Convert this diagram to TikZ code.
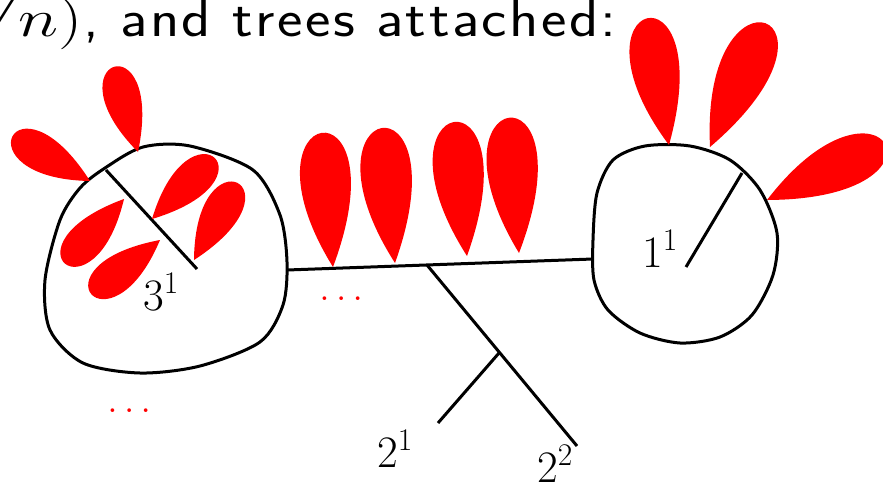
\RequirePackage{fix-cm}
\documentclass[tikz,border=0pt]{standalone}
\usepackage{graphicx}
\font\titlefont="[lmsans17-regular]:mapping=tex-text;letterspace=4" at 52.7pt
\newcommand\petal[5]{%
  \pgfmathsetmacro\petalscale{#4/135}%
  \fill[petalfill, shift={(#1,#2)}, rotate=#3, scale=\petalscale, yscale=#5]
    (0,0) .. controls (195,70) and (165,-105) .. (0,0) -- cycle;}
\tikzset{
  petalfill/.style={red},
  blob/.style={draw=black, line width=3pt},
  edge/.style={draw=black, line width=3pt},
  lbl/.style={inner sep=0pt, anchor=base, font=\fontsize{45}{50}\selectfont},
  reddots/.style={inner sep=0pt, anchor=base, text=red, font=\fontsize{38}{42}\selectfont},
}
\begin{document}
\begin{tikzpicture}[x=1pt,y=-1pt]
\useasboundingbox (0,0) rectangle (883,482);
\fill[white] (0,0) rectangle (883,482);
% title line (clipped at top/left)
\node[inner sep=0pt, anchor=base west] (title) at (83,36.7)
  {\scalebox{1.15}[1]{\titlefont, and trees attached:}};
\node[inner sep=0pt, anchor=base east] (titlemath) at (title.base west)
  {\fontsize{52.7}{60}\selectfont\scalebox{1.3}[1]{$\sqrt{\vphantom{d}n})$}};
% blobs
\draw[blob] plot[smooth cycle] coordinates {(105,168) (143,147) (190,146) (253,170) (280,215) (287,262) (283,305) (260,342) (200,366) (140,373) (83,363) (50,330) (45,280) (60,220) (80,188)};
\draw[blob] plot[smooth cycle] coordinates {(597,193) (613,160) (645,146) (690,146) (730,160) (760,190) (777,233) (773,275) (752,315) (720,337) (680,343) (640,333) (608,310) (594,280) (593,240)};
% tree
\coordinate (L) at (287,270);
\coordinate (R) at (593,259);
\coordinate (b) at (427,265);
\coordinate (c) at (499,353);
\coordinate (d) at (577,446);
\coordinate (e) at (438,423);
\coordinate (l1) at (106,170);
\coordinate (l2) at (197,269);
\coordinate (r1) at (742,173);
\coordinate (r2) at (686,267);
\draw[edge] (L) -- (R);
\draw[edge] (b) -- (d);
\draw[edge] (c) -- (e);
\draw[edge] (l1) -- (l2);
\draw[edge] (r1) -- (r2);
% petals
\petal{333}{267}{89.3}{134}{1}
\petal{395}{263}{90.1}{135}{1}
\petal{467}{256}{90.1}{134}{1}
\petal{519}{253}{88.8}{135}{1}
\petal{138}{152}{99.8}{88}{1.1}
\petal{90}{181}{144}{89}{1.1}
\petal{152}{219}{38.3}{87}{1.1}
\petal{194}{260}{54.5}{88}{1.1}
\petal{124}{199}{221.6}{87}{1.1}
\petal{160}{240}{212.2}{87}{1.1}
\petal{669}{145}{94.3}{128}{1}
\petal{710}{147}{60.3}{135}{1}
\petal{767}{200}{20}{130}{1}
% labels
\node[lbl] (n31) at (161,310) {$3^1$};
\node[lbl] (n11) at (660,267) {$1^1$};
\node[lbl] (n21) at (395,467) {$2^1$};
\node[lbl] (n22) at (555,482) {$2^2$};
\node[reddots] (dotsA) at (129.3,412.7) {$\ldots$};
\node[reddots] (dotsB) at (341.3,300.3) {$\ldots$};
\end{tikzpicture}
\end{document}
